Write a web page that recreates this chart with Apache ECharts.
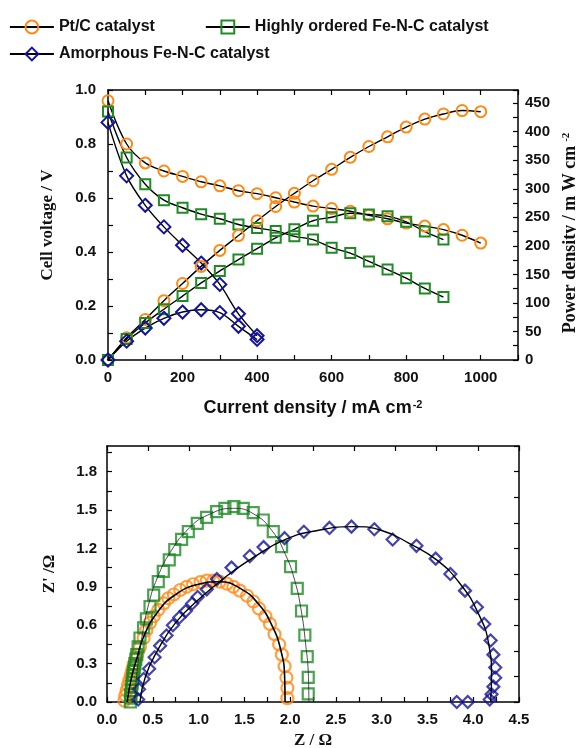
<!DOCTYPE html>
<html>
<head>
<meta charset="utf-8">
<script src="https://cdn.jsdelivr.net/npm/echarts@6/dist/echarts.min.js"></script>
<style>
  html, body { margin: 0; padding: 0; background: #fff; }
  #chart { width: 576px; height: 748px; }
</style>
</head>
<body>
<div id="chart"></div>
<script>
// ---- Polarization curves: current density (mA cm^-2), cell voltage (V), power density (mW cm^-2)
const currentPt = [0, 50, 100, 150, 200, 250, 300, 350, 400, 450, 500, 550, 600, 650, 700, 750, 800, 850, 900, 950, 1000];
const voltagePt = [0.96, 0.80, 0.73, 0.70, 0.68, 0.66, 0.645, 0.627, 0.616, 0.601, 0.585, 0.570, 0.561, 0.551, 0.536, 0.523, 0.507, 0.496, 0.483, 0.462, 0.433];
const powerPt = [0, 39, 71, 104, 134, 164, 192, 218, 244, 269, 292, 314, 334, 355, 374, 391, 408, 422, 431, 437, 435];

const currentOrdered = [0, 50, 100, 150, 200, 250, 300, 350, 400, 450, 500, 550, 600, 650, 700, 750, 800, 850, 900];
const voltageOrdered = [0.92, 0.750, 0.651, 0.592, 0.564, 0.540, 0.523, 0.502, 0.489, 0.478, 0.458, 0.446, 0.416, 0.396, 0.365, 0.335, 0.303, 0.265, 0.233];
const powerOrdered = [0, 37, 65, 89, 112, 135, 156, 176, 195, 214, 229, 244, 250, 257, 255, 252, 242, 225, 211];

const currentAmorphous = [0, 50, 100, 150, 200, 250, 300, 350, 400];
const voltageAmorphous = [0.88, 0.682, 0.573, 0.493, 0.425, 0.359, 0.280, 0.171, 0.090];
const powerAmorphous = [0, 33, 56, 73, 84, 88, 83, 59, 36];

// ---- Nyquist plots: Z (real, Ohm) and Z' (imaginary, Ohm)
const ptZre = [0.19, 0.20, 0.215, 0.23, 0.245, 0.26, 0.275, 0.29, 0.31, 0.33, 0.36, 0.40, 0.43, 0.47, 0.51, 0.56, 0.62, 0.67, 0.73, 0.80, 0.87, 0.94, 1.02, 1.09, 1.16, 1.23, 1.31, 1.38, 1.45, 1.53, 1.60, 1.66, 1.73, 1.78, 1.83, 1.88, 1.91, 1.94, 1.96, 1.97, 1.97];
const ptZim = [0.01, 0.05, 0.09, 0.13, 0.17, 0.21, 0.25, 0.29, 0.33, 0.37, 0.43, 0.50, 0.56, 0.62, 0.67, 0.72, 0.77, 0.81, 0.84, 0.875, 0.90, 0.92, 0.937, 0.948, 0.948, 0.94, 0.924, 0.90, 0.87, 0.83, 0.785, 0.73, 0.67, 0.61, 0.53, 0.45, 0.37, 0.28, 0.19, 0.11, 0.03];
const ptFitZre = [0.22, 0.27, 0.33, 0.40, 0.55, 0.75, 1.00, 1.23, 1.45, 1.65, 1.80, 1.90, 1.94, 1.945];
const ptFitZim = [0.00, 0.20, 0.35, 0.51, 0.70, 0.84, 0.92, 0.94, 0.89, 0.77, 0.60, 0.40, 0.20, 0.00];

const orderedZre = [0.255, 0.26, 0.26, 0.265, 0.27, 0.275, 0.28, 0.285, 0.29, 0.30, 0.305, 0.315, 0.325, 0.34, 0.36, 0.40, 0.43, 0.47, 0.51, 0.56, 0.615, 0.68, 0.74, 0.815, 0.888, 0.986, 1.088, 1.197, 1.288, 1.386, 1.488, 1.597, 1.707, 1.816, 1.907, 2.005, 2.078, 2.125, 2.161, 2.187, 2.198, 2.198];
const orderedZim = [0.00, 0.03, 0.06, 0.09, 0.12, 0.15, 0.18, 0.21, 0.24, 0.27, 0.30, 0.335, 0.37, 0.43, 0.50, 0.58, 0.65, 0.745, 0.835, 0.94, 1.02, 1.11, 1.19, 1.27, 1.331, 1.396, 1.443, 1.487, 1.513, 1.526, 1.513, 1.479, 1.422, 1.331, 1.214, 1.057, 0.888, 0.711, 0.523, 0.354, 0.193, 0.063];
const orderedFitZre = [0.30, 0.33, 0.38, 0.45, 0.55, 0.70, 0.90, 1.10, 1.38, 1.60, 1.80, 1.95, 2.05, 2.12, 2.17, 2.20, 2.205];
const orderedFitZim = [0.00, 0.25, 0.50, 0.75, 0.97, 1.18, 1.36, 1.46, 1.513, 1.47, 1.34, 1.15, 0.95, 0.72, 0.45, 0.20, 0.00];

const amorphousZre = [0.34, 0.35, 0.40, 0.46, 0.52, 0.58, 0.65, 0.72, 0.79, 0.86, 0.93, 0.99, 1.09, 1.20, 1.36, 1.56, 1.71, 1.94, 2.15, 2.43, 2.67, 2.92, 3.12, 3.38, 3.59, 3.75, 3.91, 4.04, 4.12, 4.19, 4.22, 4.24, 4.24, 4.22, 4.20, 4.18, 3.94, 3.82];
const amorphousZim = [0.02, 0.10, 0.18, 0.26, 0.35, 0.44, 0.52, 0.60, 0.66, 0.71, 0.77, 0.82, 0.88, 0.96, 1.05, 1.14, 1.21, 1.28, 1.33, 1.36, 1.37, 1.35, 1.27, 1.22, 1.12, 1.00, 0.87, 0.74, 0.61, 0.48, 0.37, 0.27, 0.19, 0.12, 0.06, 0.02, 0.00, 0.00];
const amorphousFitZre = [0.36, 0.42, 0.55, 0.75, 1.00, 1.30, 1.60, 1.95, 2.30, 2.70, 3.00, 3.30, 3.60, 3.85, 4.05, 4.17, 4.20, 4.19];
const amorphousFitZim = [0.00, 0.20, 0.40, 0.62, 0.80, 0.98, 1.13, 1.27, 1.34, 1.37, 1.34, 1.24, 1.11, 0.93, 0.70, 0.45, 0.20, 0.00];

const seriesNames = ['Pt/C catalyst', 'Highly ordered Fe-N-C catalyst', 'Amorphous Fe-N-C catalyst'];

const ORANGE = '#FF8A14';
const GREEN = '#1E8B24';
const NAVY = '#14149A';
const SANS = 'Liberation Sans, Arial, sans-serif';
const SERIF = 'Liberation Serif, Times New Roman, serif';

const zip = (xs, ys) => xs.map((x, i) => [x, ys[i]]);

function polarization(name, xs, ys, yAxisIndex, symbol, size, color) {
  return {
    name, type: 'line', xAxisIndex: 0, yAxisIndex,
    data: zip(xs, ys), smooth: 0.35, showAllSymbol: true,
    symbol, symbolSize: size,
    lineStyle: { color: '#000', width: 1.4 },
    itemStyle: { color: 'rgba(255,255,255,0)', borderColor: color, borderWidth: 2 },
    emphasis: { disabled: true }, z: 3
  };
}

function nyquistMarks(name, xs, ys, symbol, size, color) {
  return {
    name, type: 'scatter', xAxisIndex: 2, yAxisIndex: 2,
    data: zip(xs, ys), symbol, symbolSize: size,
    itemStyle: { color: 'rgba(255,255,255,0)', borderColor: color, borderWidth: 2.2 },
    emphasis: { disabled: true }, z: 3
  };
}

function nyquistFit(name, xs, ys, width, color) {
  return {
    name, type: 'line', xAxisIndex: 2, yAxisIndex: 2,
    data: zip(xs, ys), smooth: 0.5, showSymbol: false, symbol: 'none',
    lineStyle: { color, width }, emphasis: { disabled: true }, z: 4
  };
}

const tickLabel = { color: '#111', fontFamily: SANS, fontWeight: 'bold', fontSize: 15 };
const axisLine = { show: true, onZero: false, lineStyle: { color: '#000', width: 1.5 } };
const innerTick = { show: true, inside: true, length: 5, lineStyle: { color: '#000', width: 1.2 } };
const frame = (extra) => Object.assign({
  type: 'value', axisLine, axisTick: innerTick, axisLabel: { show: false },
  splitLine: { show: false }
}, extra);

const supRich = (fam, gap) => ({
  sup: { fontSize: 11, fontWeight: 'bold', fontFamily: fam, color: '#111', verticalAlign: 'top', padding: [0, 0, 8, gap] }
});

const legendText = { color: '#111', fontFamily: SANS, fontWeight: 'bold', fontSize: 16 };

const option = {
  animation: false,
  backgroundColor: '#fff',
  legend: [
    {
      data: seriesNames.slice(0, 2), left: 9, top: 19, padding: 0, itemWidth: 44, itemHeight: 16, itemGap: 50,
      lineStyle: { width: 1.8 }, textStyle: legendText, selectedMode: false
    },
    {
      data: seriesNames.slice(2), left: 9, top: 46, padding: 0, itemWidth: 44, itemHeight: 16,
      lineStyle: { width: 1.8 }, textStyle: legendText, selectedMode: false
    }
  ],
  grid: [
    { left: 108, top: 90, width: 410, height: 270, outerBoundsMode: 'none', containLabel: false },
    { left: 107, top: 446, width: 412, height: 256, outerBoundsMode: 'none', containLabel: false }
  ],
  xAxis: [
    {
      gridIndex: 0, type: 'value', position: 'bottom', min: 0, max: 1100, interval: 100,
      axisLine, axisTick: innerTick, splitLine: { show: false },
      axisLabel: Object.assign({ margin: 10, formatter: v => (Math.round(v) % 200 === 0 && v <= 1000) ? String(Math.round(v)) : '' }, tickLabel),
      name: 'Current density / mA cm{sup|-2}', nameLocation: 'middle', nameGap: 39,
      nameTextStyle: { color: '#111', fontFamily: SANS, fontWeight: 'bold', fontSize: 18, rich: supRich(SANS, 1) }
    },
    frame({ gridIndex: 0, position: 'top', min: 0, max: 1100, interval: 100 }),
    {
      gridIndex: 1, type: 'value', position: 'bottom', min: 0, max: 4.5, interval: 0.25,
      axisLine, axisTick: innerTick, splitLine: { show: false },
      axisLabel: Object.assign({ margin: 10, formatter: v => (Math.round(v * 100) % 50 === 0) ? v.toFixed(1) : '' }, tickLabel),
      name: 'Z / Ω', nameLocation: 'middle', nameGap: 30,
      nameTextStyle: { color: '#111', fontFamily: SERIF, fontWeight: 'bold', fontSize: 17 }
    },
    frame({ gridIndex: 1, position: 'top', min: 0, max: 4.5, interval: 0.45 })
  ],
  yAxis: [
    {
      gridIndex: 0, type: 'value', position: 'left', min: 0, max: 1, interval: 0.1,
      axisLine, axisTick: innerTick, splitLine: { show: false },
      axisLabel: Object.assign({ margin: 12, formatter: v => (Math.round(v * 10) % 2 === 0) ? v.toFixed(1) : '' }, tickLabel),
      name: 'Cell voltage / V', nameLocation: 'middle', nameGap: 52,
      nameTextStyle: { color: '#111', fontFamily: SERIF, fontWeight: 'bold', fontSize: 17 }
    },
    {
      gridIndex: 0, type: 'value', position: 'right', min: 0, max: 473, interval: 25,
      axisLine, axisTick: innerTick, splitLine: { show: false },
      axisLabel: Object.assign({ margin: 7, formatter: v => (Math.round(v) % 50 === 0 && v <= 450) ? String(Math.round(v)) : '' }, tickLabel),
      name: 'Power density / m W cm{sup|-2}', nameLocation: 'middle', nameGap: 33,
      nameTextStyle: { color: '#111', fontFamily: SERIF, fontWeight: 'bold', fontSize: 18, padding: [0, 16, 0, 0], rich: supRich(SERIF, 4) }
    },
    {
      gridIndex: 1, type: 'value', position: 'left', min: 0, max: 2.0, interval: 0.15,
      axisLine, axisTick: innerTick, splitLine: { show: false },
      axisLabel: Object.assign({ margin: 10, showMaxLabel: false, formatter: v => (Math.round(v * 100) % 30 === 0 && v < 1.95) ? v.toFixed(1) : '' }, tickLabel),
      name: "Z' /Ω", nameLocation: 'middle', nameGap: 49,
      nameTextStyle: { color: '#111', fontFamily: SERIF, fontWeight: 'bold', fontSize: 17 }
    },
    frame({ gridIndex: 1, position: 'right', min: 0, max: 2.0, interval: 0.2 })
  ],
  series: [
    polarization(seriesNames[0], currentPt, voltagePt, 0, 'circle', 11, ORANGE),
    polarization(seriesNames[1], currentOrdered, voltageOrdered, 0, 'rect', 10, GREEN),
    polarization(seriesNames[2], currentAmorphous, voltageAmorphous, 0, 'diamond', 13, NAVY),
    polarization(seriesNames[0], currentPt, powerPt, 1, 'circle', 11, ORANGE),
    polarization(seriesNames[1], currentOrdered, powerOrdered, 1, 'rect', 10, GREEN),
    polarization(seriesNames[2], currentAmorphous, powerAmorphous, 1, 'diamond', 13, NAVY),

    nyquistMarks('Pt/C EIS', ptZre, ptZim, 'circle', 12, ORANGE),
    nyquistMarks('Ordered Fe-N-C EIS', orderedZre, orderedZim, 'rect', 11, GREEN),
    nyquistMarks('Amorphous Fe-N-C EIS', amorphousZre, amorphousZim, 'diamond', 12, NAVY),
    nyquistFit('Pt/C fit', ptFitZre, ptFitZim, 1.6, '#000'),
    nyquistFit('Ordered Fe-N-C fit', orderedFitZre, orderedFitZim, 0.8, '#222'),
    nyquistFit('Amorphous Fe-N-C fit', amorphousFitZre, amorphousFitZim, 1.4, '#000')
  ]
};

const chart = echarts.init(document.getElementById('chart'), null, { renderer: 'canvas' });
chart.setOption(option);
</script>
</body>
</html>
